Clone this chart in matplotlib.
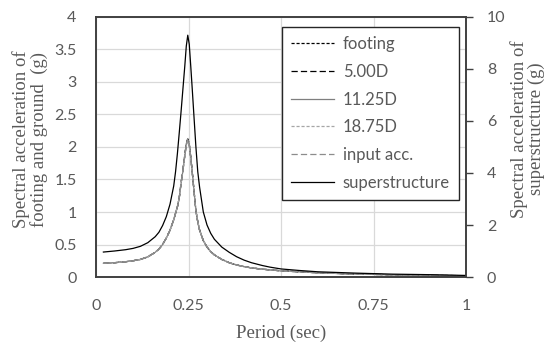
import matplotlib
matplotlib.use('Agg')
import matplotlib.pyplot as plt

# Period (sec)
period = [0.02, 0.05, 0.08, 0.10, 0.12, 0.14, 0.16, 0.17, 0.18, 0.19, 0.20, 0.21,
          0.215, 0.22, 0.225, 0.23, 0.235, 0.24, 0.244, 0.248, 0.252, 0.256, 0.26,
          0.265, 0.27, 0.275, 0.28, 0.29, 0.30, 0.31, 0.32, 0.34, 0.36, 0.38, 0.40,
          0.42, 0.45, 0.47, 0.50, 0.55, 0.60, 0.70, 0.80, 0.90, 1.00]

# spectral acceleration of footing / ground (g), left axis
footing = [0.21, 0.22, 0.235, 0.25, 0.27, 0.31, 0.38, 0.43, 0.50, 0.60, 0.72, 0.88,
           0.98, 1.08, 1.22, 1.45, 1.65, 1.88, 2.05, 2.13, 2.05, 1.85, 1.62,
           1.32, 1.02, 0.85, 0.72, 0.56, 0.46, 0.39, 0.34, 0.27, 0.22, 0.185, 0.16,
           0.14, 0.12, 0.11, 0.095, 0.08, 0.065, 0.045, 0.035, 0.025, 0.02]
d_500 = [0.21, 0.22, 0.235, 0.25, 0.27, 0.31, 0.38, 0.43, 0.50, 0.60, 0.72, 0.88,
         0.98, 1.08, 1.22, 1.45, 1.65, 1.87, 2.04, 2.12, 2.04, 1.84, 1.62,
         1.32, 1.02, 0.85, 0.72, 0.56, 0.46, 0.39, 0.34, 0.27, 0.22, 0.185, 0.16,
         0.14, 0.12, 0.11, 0.095, 0.08, 0.065, 0.045, 0.035, 0.025, 0.02]
d_1125 = [0.21, 0.22, 0.235, 0.25, 0.27, 0.31, 0.38, 0.43, 0.50, 0.60, 0.72, 0.88,
          0.98, 1.08, 1.22, 1.44, 1.64, 1.86, 2.03, 2.11, 2.03, 1.84, 1.61,
          1.31, 1.02, 0.85, 0.72, 0.56, 0.46, 0.39, 0.34, 0.27, 0.22, 0.185, 0.16,
          0.14, 0.12, 0.11, 0.095, 0.08, 0.065, 0.045, 0.035, 0.025, 0.02]
d_1875 = [0.21, 0.22, 0.235, 0.25, 0.27, 0.31, 0.38, 0.43, 0.50, 0.60, 0.72, 0.88,
          0.98, 1.08, 1.22, 1.44, 1.64, 1.86, 2.02, 2.10, 2.02, 1.83, 1.61,
          1.31, 1.01, 0.85, 0.72, 0.56, 0.46, 0.39, 0.34, 0.27, 0.22, 0.185, 0.16,
          0.14, 0.12, 0.11, 0.095, 0.08, 0.065, 0.045, 0.035, 0.025, 0.02]
input_acc = [0.21, 0.22, 0.235, 0.25, 0.27, 0.31, 0.38, 0.43, 0.50, 0.60, 0.72, 0.88,
             0.98, 1.08, 1.22, 1.45, 1.65, 1.88, 2.05, 2.13, 2.05, 1.85, 1.62,
             1.32, 1.02, 0.85, 0.72, 0.56, 0.46, 0.39, 0.34, 0.27, 0.22, 0.185, 0.16,
             0.14, 0.12, 0.11, 0.095, 0.08, 0.065, 0.045, 0.035, 0.025, 0.02]

# superstructure (g), right axis
superstructure = [0.96, 1.00, 1.05, 1.10, 1.18, 1.32, 1.55, 1.72, 1.98, 2.32, 2.80, 3.50,
                  4.05, 4.75, 5.55, 6.38, 7.25, 8.12, 8.88, 9.30, 8.95, 8.12, 7.25,
                  6.12, 5.00, 4.05, 3.45, 2.50, 2.00, 1.68, 1.45, 1.15, 0.95, 0.78, 0.65,
                  0.55, 0.44, 0.38, 0.31, 0.25, 0.20, 0.15, 0.11, 0.09, 0.06]

TICK = '#595959'
SANS = 'Lato'
SERIF = 'Liberation Serif'

fig = plt.figure(figsize=(5.47, 3.49), dpi=100)
ax = fig.add_axes([0.1755, 0.2063, 0.6765, 0.745])
ax2 = ax.twinx()

ax.plot(period, footing, color='black', lw=0.9, ls=(0, (2.5, 1.5)), label='footing')
ax.plot(period, d_500, color='black', lw=0.9, ls=(0, (5, 2.5)), label='5.00D')
ax.plot(period, d_1125, color='#7f7f7f', lw=0.9, ls='-', label='11.25D')
ax.plot(period, d_1875, color='#a6a6a6', lw=0.9, ls=(0, (2.5, 1.5)), label='18.75D')
ax.plot(period, input_acc, color='#8c8c8c', lw=0.9, ls=(0, (5, 2.5)), label='input acc.')
ax2.plot(period, superstructure, color='black', lw=0.9, label='superstructure')

ax.set_xlim(0, 1)
ax.set_ylim(0, 4)
ax2.set_ylim(0, 10)
ax.set_xticks([0, 0.25, 0.5, 0.75, 1])
ax.set_xticklabels(['0', '0.25', '0.5', '0.75', '1'])
ax.set_yticks([0, 0.5, 1, 1.5, 2, 2.5, 3, 3.5, 4])
ax.set_yticklabels(['0', '0.5', '1', '1.5', '2', '2.5', '3', '3.5', '4'])
ax2.set_yticks([0, 2, 4, 6, 8, 10])

ax.grid(True, color='#d9d9d9', lw=0.9)
ax.set_axisbelow(True)
ax.tick_params(axis='x', length=0, pad=16, labelsize=11.5, labelcolor=TICK)
ax.tick_params(axis='y', length=0, pad=14, labelsize=11.5, labelcolor=TICK)
ax2.tick_params(axis='y', length=5, width=1, color='#404040', pad=10,
                labelsize=11.5, labelcolor=TICK)
for lab in ax.get_xticklabels() + ax.get_yticklabels() + ax2.get_yticklabels():
    lab.set_family(SANS)

for a in (ax, ax2):
    for s in a.spines.values():
        s.set_color('#404040')
        s.set_linewidth(1.2)

ax.set_xlabel('Period (sec)', family=SERIF, fontsize=13.5, color=TICK, labelpad=8)
fig.text(0.055, 0.60, 'Spectral acceleration of\nfooting and ground  (g)',
         rotation=90, ha='center', va='center', family=SERIF, fontsize=13.5,
         color=TICK, linespacing=0.95)
fig.text(0.965, 0.63, 'Spectral acceleration of\nsuperstructure (g)',
         rotation=90, ha='center', va='center', family=SERIF, fontsize=13.5,
         color=TICK, linespacing=0.95)

h1, l1 = ax.get_legend_handles_labels()
h2, l2 = ax2.get_legend_handles_labels()
leg = ax2.legend(h1 + h2, l1 + l2, loc='upper right', bbox_to_anchor=(0.981, 0.9615),
                 borderaxespad=0, fancybox=False, framealpha=1, edgecolor='#262626',
                 prop={'family': SANS, 'size': 12}, handlelength=2.6,
                 handletextpad=0.5, labelspacing=0.7, borderpad=0.55)
leg.get_frame().set_linewidth(1.0)
for t in leg.get_texts():
    t.set_color(TICK)

fig.savefig('out.png', dpi=100)
